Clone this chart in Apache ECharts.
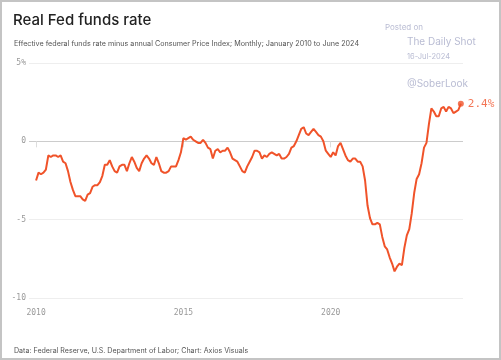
<!DOCTYPE html>
<html>
<head>
<meta charset="utf-8">
<script src="https://cdn.jsdelivr.net/npm/echarts@6/dist/echarts.min.js"></script>
<style>
html,body{margin:0;padding:0;background:#fff;}
#wrap{position:relative;width:501px;height:360px;}
#chart{position:absolute;left:0;top:0;width:501px;height:360px;}
#frame{position:absolute;left:0;top:0;width:501px;height:360px;box-sizing:border-box;border:2px solid #c4c4c4;pointer-events:none;}
</style>
</head>
<body>
<div id="wrap"><div id="chart"></div><div id="frame"></div></div>
<script>
// ---- data ----
var startYear = 2010;
var startMonth = 0; // January
var realRate = [
  // 2010
  -2.5, -2.0, -2.1, -2.0, -1.8, -0.9, -1.0, -0.9, -0.9, -1.0, -0.9, -1.3,
  // 2011
  -1.4, -1.9, -2.6, -3.1, -3.5, -3.5, -3.5, -3.7, -3.8, -3.4, -3.3, -2.9,
  // 2012
  -2.8, -2.8, -2.6, -2.2, -1.5, -1.5, -1.2, -1.6, -1.9, -2.0, -1.6, -1.5,
  // 2013
  -1.5, -1.9, -1.4, -1.0, -1.3, -1.7, -1.9, -1.4, -1.1, -0.9, -1.1, -1.4,
  // 2014
  -1.5, -1.0, -1.4, -1.9, -2.0, -2.0, -1.9, -1.6, -1.6, -1.6, -1.2, -0.7,
  // 2015
  0.2, 0.1, 0.2, 0.3, 0.1, 0.0, -0.1, -0.1, 0.1, -0.1, -0.4, -0.5,
  // 2016
  -1.1, -0.6, -0.5, -0.7, -0.6, -0.6, -0.4, -0.7, -1.1, -1.2, -1.3, -1.6,
  // 2017
  -1.9, -2.0, -1.6, -1.3, -1.0, -0.6, -0.6, -0.7, -1.1, -0.9, -1.0, -0.8,
  // 2018
  -0.7, -0.8, -0.9, -0.8, -1.1, -1.1, -1.0, -0.8, -0.4, -0.3, 0.0, 0.4,
  // 2019
  0.8, 0.9, 0.5, 0.4, 0.6, 0.8, 0.6, 0.4, 0.3, 0.0, -0.6, -0.8,
  // 2020
  -1.0, -0.7, -0.9, -0.3, -0.1, -0.5, -0.9, -1.2, -1.3, -1.1, -1.1, -1.3,
  // 2021
  -1.3, -1.6, -2.5, -4.1, -4.9, -5.3, -5.3, -5.2, -5.3, -6.1, -6.7, -6.9,
  // 2022
  -7.4, -7.8, -8.3, -8.0, -7.8, -7.9, -6.8, -6.0, -5.6, -4.6, -3.3, -2.4,
  // 2023
  -2.1, -1.4, -0.4, -0.1, 1.1, 2.1, 1.9, 1.6, 1.6, 2.1, 2.2, 1.9,
  // 2024
  2.2, 2.1, 1.8, 1.9, 2.0, 2.4
];
var yTicks = [-10, -5, 0, 5];
var xTickYears = [2010, 2015, 2020];
var titleText = 'Real Fed funds rate';
var subtitleText = 'Effective federal funds rate minus annual Consumer Price Index; Monthly; January 2010 to June 2024';
var sourceText = 'Data: Federal Reserve, U.S. Department of Labor; Chart: Axios Visuals';

// ---- build ----
var points = realRate.map(function (v, i) {
  return [startYear + (startMonth + i) / 12, v];
});
var last = points[points.length - 1];

var mono = '"DejaVu Sans Mono", "Liberation Mono", monospace';
var sans = 'Inter, "Noto Sans", sans-serif';
var orange = '#F0532A';
var wm = '#b9bcd3';

var chart = echarts.init(document.getElementById('chart'), null, {renderer: 'canvas'});
chart.setOption({
  animation: false,
  backgroundColor: '#fff',
  title: [
    {text: titleText, left: 8, top: 8, textStyle: {fontFamily: sans, fontSize: 15, fontWeight: 500, color: '#222'}},
    {text: subtitleText, left: 9, top: 35, textStyle: {fontFamily: sans, fontSize: 7.2, fontWeight: 400, color: '#555'}},
    {text: sourceText, left: 9, top: 342, textStyle: {fontFamily: sans, fontSize: 7.1, fontWeight: 400, color: '#555'}},
    {text: 'Posted on', left: 380, top: 19, textStyle: {fontFamily: sans, fontSize: 8, fontWeight: 400, color: wm}},
    {text: 'The Daily Shot', left: 402, top: 32, textStyle: {fontFamily: sans, fontSize: 10, fontWeight: 400, color: wm}},
    {text: '16-Jul-2024', left: 402, top: 48, textStyle: {fontFamily: sans, fontSize: 7.5, fontWeight: 400, color: wm}},
    {text: '@SoberLook', left: 402, top: 74, textStyle: {fontFamily: sans, fontSize: 10, fontWeight: 400, color: wm}}
  ],
  grid: {left: 29, right: 38, top: 63, bottom: 62, containLabel: false},
  xAxis: {
    type: 'value',
    min: 2009.76,
    max: 2024.49,
    axisLine: {show: false},
    splitLine: {show: false},
    axisTick: {show: true, customValues: xTickYears, length: 6, lineStyle: {color: '#ddd'}},
    axisLabel: {
      customValues: xTickYears,
      formatter: function (v) { return String(Math.round(v)); },
      fontFamily: mono, fontSize: 8, color: '#999', margin: 11
    }
  },
  yAxis: {
    type: 'value',
    min: -10,
    max: 5,
    interval: 5,
    axisLine: {show: false},
    axisTick: {show: false},
    splitLine: {lineStyle: {color: ['#eeeeee', '#eeeeee', '#cccccc', '#eeeeee'], width: 1}},
    axisLabel: {
      formatter: function (v) { return v === 5 ? '5%' : String(v); },
      fontFamily: mono, fontSize: 8, color: '#999', margin: 3
    }
  },
  series: [
    {
      type: 'line',
      data: points,
      showSymbol: false,
      lineStyle: {color: orange, width: 2},
      z: 3
    },
    {
      type: 'scatter',
      data: [last],
      symbol: 'circle',
      symbolSize: 6,
      itemStyle: {color: orange},
      label: {
        show: true,
        position: 'right',
        distance: 4,
        formatter: function (p) { return p.value[1].toFixed(1) + '%'; },
        fontFamily: mono, fontSize: 11, color: orange
      },
      z: 4
    }
  ]
});
</script>
</body>
</html>
